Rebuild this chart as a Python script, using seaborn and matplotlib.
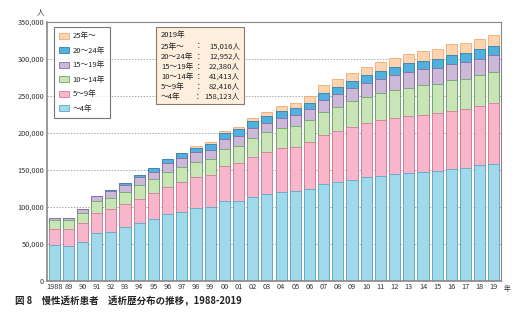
import numpy as np
import pandas as pd
import matplotlib
matplotlib.use("Agg")
import matplotlib.pyplot as plt
from matplotlib.patches import Patch, Rectangle
import seaborn as sns

# ---- data (thousands of patients) ----
years = list(range(1988, 2020))
tick_labels = ["1988", "89", "90", "91", "92", "93", "94", "95", "96", "97", "98", "99",
               "00", "01", "02", "03", "04", "05", "06", "07", "08", "09", "10", "11",
               "12", "13", "14", "15", "16", "17", "18", "19"]
labels = ["～4年", "5～9年", "10～14年", "15～19年", "20～24年", "25年～"]
v_0_4 = [47.8, 46.9, 52.7, 64.0, 65.8, 72.0, 77.5, 83.4, 89.7, 93.2, 97.8, 100.0,
         107.3, 108.0, 113.5, 117.0, 120.3, 121.6, 124.3, 130.7, 133.8, 136.5, 139.7, 141.5,
         143.8, 145.0, 146.5, 148.6, 151.0, 152.7, 156.0, 158.123]
v_5_9 = [22.5, 22.6, 24.9, 28.0, 30.7, 31.6, 33.5, 34.6, 37.3, 40.2, 41.9, 42.8,
         47.7, 50.6, 53.2, 56.5, 58.6, 59.4, 62.7, 66.3, 68.9, 71.5, 73.0, 75.2,
         75.6, 77.0, 77.8, 77.4, 79.0, 79.3, 80.5, 82.416]
v_10_14 = [11.7, 12.5, 13.4, 15.7, 15.5, 16.4, 18.0, 19.0, 19.5, 20.6, 21.1, 21.2,
           22.6, 23.8, 25.7, 27.0, 27.1, 28.5, 30.0, 31.4, 32.3, 34.8, 35.9, 36.3,
           38.3, 39.0, 40.2, 39.8, 40.8, 40.6, 41.5, 41.413]
v_15_19 = [2.3, 3.0, 5.5, 6.3, 8.8, 9.0, 10.7, 10.0, 12.1, 12.2, 12.7, 12.6,
           13.4, 13.6, 13.6, 13.0, 14.3, 14.5, 14.6, 15.6, 17.0, 17.2, 19.0, 19.6,
           20.3, 21.4, 21.2, 21.2, 22.0, 22.4, 21.6, 22.380]
v_20_24 = [0.0, 0.0, 0.0, 0.8, 1.2, 3.0, 3.1, 5.0, 5.4, 5.8, 6.5, 8.1,
           9.0, 8.6, 9.4, 9.5, 9.4, 9.0, 8.9, 10.0, 10.0, 10.0, 10.4, 10.8,
           11.0, 11.4, 11.3, 12.0, 12.2, 12.7, 13.1, 12.952]
v_25 = [0.0, 0.0, 0.0, 0.0, 0.0, 0.0, 0.0, 0.0, 0.0, 1.0, 1.6, 2.3,
        2.0, 3.4, 4.5, 5.4, 6.3, 7.5, 9.1, 10.0, 10.6, 11.0, 11.0, 11.6,
        12.0, 13.2, 13.0, 14.0, 14.5, 13.9, 13.9, 15.016]
note_title = "2019年"
note_labels = ["25年～", "20～24年", "15～19年", "10～14年", "5～9年", "～4年"]
note_values = ["15,016人", "12,952人", "22,380人", "41,413人", "82,416人", "158,123人"]
caption = "図 8　慢性透析患者　透析歴分布の推移，1988-2019"

fills = ["#a0d9ea", "#f9b5ca", "#c9e4b5", "#ccb9d8", "#52b0dc", "#fdd4ae"]
edges = ["#5aa9cc", "#d47a9b", "#6aa868", "#8a6aa5", "#2f7fb0", "#eeaa74"]

sns.set_theme(style="white")
plt.rcParams["font.family"] = ["Noto Sans CJK JP", "DejaVu Sans"]

fig = plt.figure(figsize=(5.24, 3.21), dpi=100)
W, H = 524, 321
ax = fig.add_axes([47 / W, 1 - 280.7 / H, (501 - 47) / W, (280.7 - 21.7) / H])

series = [v_0_4, v_5_9, v_10_14, v_15_19, v_20_24, v_25]
cum = np.zeros(len(years))
cums = []
for s in series:
    cum = cum + np.array(s) * 1000
    cums.append(cum.copy())

for i in reversed(range(len(series))):
    df = pd.DataFrame({"year": tick_labels, "value": cums[i]})
    sns.barplot(data=df, x="year", y="value", order=tick_labels, color=fills[i],
                saturation=1, edgecolor=edges[i], linewidth=0.6, width=0.78, ax=ax,
                errorbar=None)

ax.set_xlim(-0.5, len(years) - 0.5)
ax.set_ylim(0, 350000)
ax.set_yticks(range(0, 350001, 50000))
ax.set_yticklabels([f"{v:,}" for v in range(0, 350001, 50000)])
ax.set_xlabel("")
ax.set_ylabel("")
ax.yaxis.grid(True, linestyle=(0, (1.5, 1.5)), color="#aaaaaa", linewidth=0.7)
ax.set_axisbelow(True)
ax.tick_params(axis="both", labelsize=5.3, colors="#333333", length=0, pad=2)
ax.set_xticks(np.arange(len(years)) + 0.5, minor=True)
ax.tick_params(axis="x", which="minor", direction="in", length=2.5, color="#999999", width=0.6)
for side, sp in ax.spines.items():
    sp.set_color("#888888")
    sp.set_linewidth(1.2 if side in ("left", "bottom") else 0.8)

handles = [Patch(facecolor=fills[i], edgecolor=edges[i], linewidth=0.6) for i in reversed(range(6))]
leg = fig.legend(handles, list(reversed(labels)), loc="upper left",
                 bbox_to_anchor=(54 / W, 1 - 27 / H), frameon=True, fancybox=False,
                 edgecolor="#555555", fontsize=5.5, handlelength=1.3, handleheight=0.9,
                 labelspacing=0.85, borderpad=0.7, handletextpad=0.4, borderaxespad=0)
leg.get_frame().set_linewidth(0.8)

fig.patches.append(Rectangle((155.5 / W, 1 - 103.5 / H), 88 / W, 76.5 / H,
                             transform=fig.transFigure, facecolor="#fdeedd",
                             edgecolor="#8a7a6a", linewidth=0.8, zorder=5))
fig.text(161 / W, 1 - 35 / H, note_title, fontsize=5.5, va="center", ha="left",
         color="#222222", zorder=6)
for k, (lab, val) in enumerate(zip(note_labels, note_values)):
    yy = 1 - (46.5 + k * 10.1) / H
    fig.text(161 / W, yy, lab, fontsize=5.5, va="center", ha="left", color="#222222", zorder=6)
    fig.text(199 / W if k < 5 else 198 / W, yy, "：", fontsize=5.5, va="center", ha="center",
             color="#222222", zorder=6)
    fig.text(240 / W, yy, val, fontsize=5.5, va="center", ha="right", color="#222222", zorder=6)

fig.text(41 / W, 1 - 12 / H, "人", fontsize=5.5, ha="center", va="center", color="#333333")
fig.text(507 / W, 1 - 289 / H, "年", fontsize=5, ha="center", va="center", color="#333333")
fig.text(15 / W, 1 - 301 / H, caption, fontsize=6.8, ha="left", va="center",
         color="#222222", fontweight="bold")

fig.savefig("out.png", dpi=100)
